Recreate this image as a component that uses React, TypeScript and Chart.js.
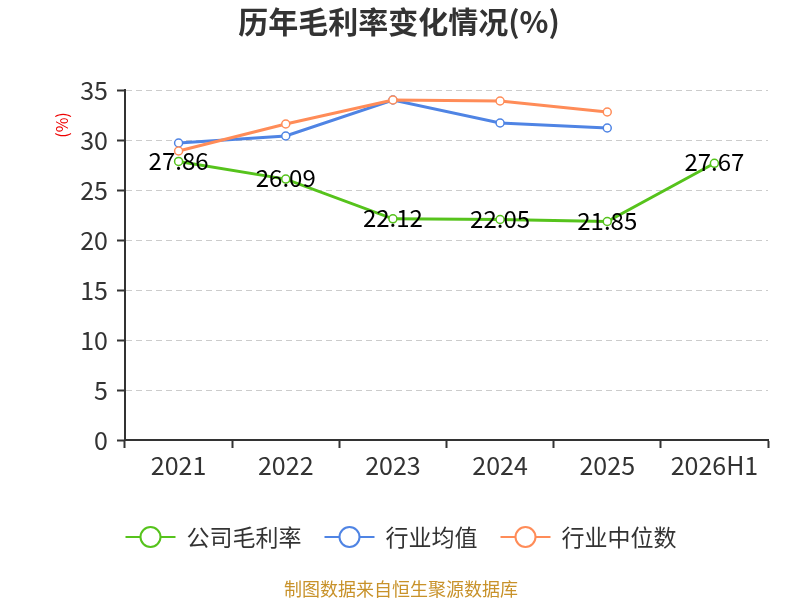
import React, { useEffect, useRef } from 'react';
import { Chart, registerables } from 'chart.js';

Chart.register(...registerables);

const categories = ['2021', '2022', '2023', '2024', '2025', '2026H1'];
const companyMargin = [27.86, 26.09, 22.12, 22.05, 21.85, 27.67];
const industryMean = [29.7, 30.4, 34.0, 31.7, 31.2, null];
const industryMedian = [28.9, 31.6, 34.0, 33.9, 32.8, null];
const seriesNames = ['公司毛利率', '行业均值', '行业中位数'];
const seriesColors = ['#56c31c', '#4f84e4', '#ff8c58'];

const FONT = '"Noto Sans CJK SC", "Noto Sans", sans-serif';

// title, axis unit, legend, footer and value labels
const decorPlugin = {
    id: 'decor',
    afterDatasetsDraw(chart) {
        const ctx = chart.ctx;
        const meta = chart.getDatasetMeta(0);
        ctx.save();
        ctx.font = `24px ${FONT}`;
        ctx.fillStyle = '#000';
        ctx.textAlign = 'center';
        ctx.textBaseline = 'middle';
        meta.data.forEach((pt, i) => {
            ctx.fillText(companyMargin[i].toFixed(2), pt.x, pt.y - 1);
        });
        ctx.restore();
    },
    afterDraw(chart) {
        const ctx = chart.ctx;
        ctx.save();
        // title
        ctx.font = `bold 30px ${FONT}`;
        ctx.fillStyle = '#333';
        ctx.textAlign = 'center';
        ctx.textBaseline = 'middle';
        ctx.fillText('历年毛利率变化情况(%)', 399, 22);

        // unit
        ctx.save();
        ctx.translate(62, 125);
        ctx.rotate(-Math.PI / 2);
        ctx.font = `16px ${FONT}`;
        ctx.fillStyle = '#e00';
        ctx.fillText('(%)', 0, 0);
        ctx.restore();

        // legend
        ctx.font = `23px ${FONT}`;
        ctx.textAlign = 'left';
        const iconW = 50, gapText = 11, gapItem = 23;
        const widths = seriesNames.map(n => ctx.measureText(n).width);
        const total = widths.reduce((a, w) => a + iconW + gapText + w, 0) + gapItem * (seriesNames.length - 1);
        let x = 401 - total / 2;
        const y = 537;
        seriesNames.forEach((name, i) => {
            ctx.strokeStyle = seriesColors[i];
            ctx.lineWidth = 2;
            ctx.beginPath();
            ctx.moveTo(x, y);
            ctx.lineTo(x + iconW, y);
            ctx.stroke();
            ctx.beginPath();
            ctx.arc(x + iconW / 2, y, 10, 0, Math.PI * 2);
            ctx.fillStyle = '#fff';
            ctx.fill();
            ctx.stroke();
            ctx.fillStyle = '#333';
            ctx.fillText(name, x + iconW + gapText, y);
            x += iconW + gapText + widths[i] + gapItem;
        });

        // footer
        ctx.font = `18px ${FONT}`;
        ctx.textAlign = 'center';
        ctx.fillStyle = '#c8922a';
        ctx.fillText('制图数据来自恒生聚源数据库', 401, 589);
        ctx.restore();
    }
};

const makeSet = (label, data, color, order) => ({
    label,
    data,
    order,
    borderColor: color,
    backgroundColor: '#fff',
    borderWidth: 3,
    pointRadius: 4,
    pointBorderWidth: 1.5,
    pointBackgroundColor: '#fff',
    pointBorderColor: color,
    tension: 0,
    spanGaps: false,
});

const App = () => {
    const chartRef = useRef(null);
    const chartInstanceRef = useRef(null);

    useEffect(() => {
        document.body.style.margin = '0';
        if (!chartRef.current) return;
        const ctx = chartRef.current.getContext('2d');
        if (!ctx) return;

        chartInstanceRef.current = new Chart(ctx, {
            type: 'line',
            data: {
                labels: categories,
                datasets: [
                    makeSet(seriesNames[0], companyMargin, seriesColors[0], 0),
                    makeSet(seriesNames[1], industryMean, seriesColors[1], 2),
                    makeSet(seriesNames[2], industryMedian, seriesColors[2], 1),
                ]
            },
            options: {
                responsive: true,
                maintainAspectRatio: false,
                animation: false,
                layout: { padding: { top: 90, right: 32, left: 0, bottom: 0 } },
                scales: {
                    x: {
                        offset: true,
                        afterFit: (scale) => { scale.height = 160; },
                        grid: {
                            drawOnChartArea: false,
                            tickLength: 8,
                            tickColor: '#333',
                            tickWidth: 2,
                            offset: true,
                        },
                        border: { color: '#333', width: 2 },
                        ticks: { color: '#333', font: { size: 25, family: FONT }, padding: 2 }
                    },
                    y: {
                        min: 0,
                        max: 35,
                        afterFit: (scale) => { scale.width = 125; },
                        grid: {
                            color: '#cccccc',
                            tickColor: '#333',
                            tickLength: 8,
                            tickWidth: 2,
                        },
                        border: { color: '#333', width: 2, dash: [6, 4] },
                        ticks: { stepSize: 5, color: '#333', font: { size: 25, family: FONT }, padding: 9 }
                    }
                },
                plugins: {
                    legend: { display: false },
                    title: { display: false },
                    tooltip: { enabled: false }
                }
            },
            plugins: [decorPlugin]
        });

        return () => {
            if (chartInstanceRef.current) {
                chartInstanceRef.current.destroy();
                chartInstanceRef.current = null;
            }
        };
    }, []);

    return <div style={{ width: '800px', height: '600px' }}><canvas ref={chartRef} /></div>;
};

export default App;
